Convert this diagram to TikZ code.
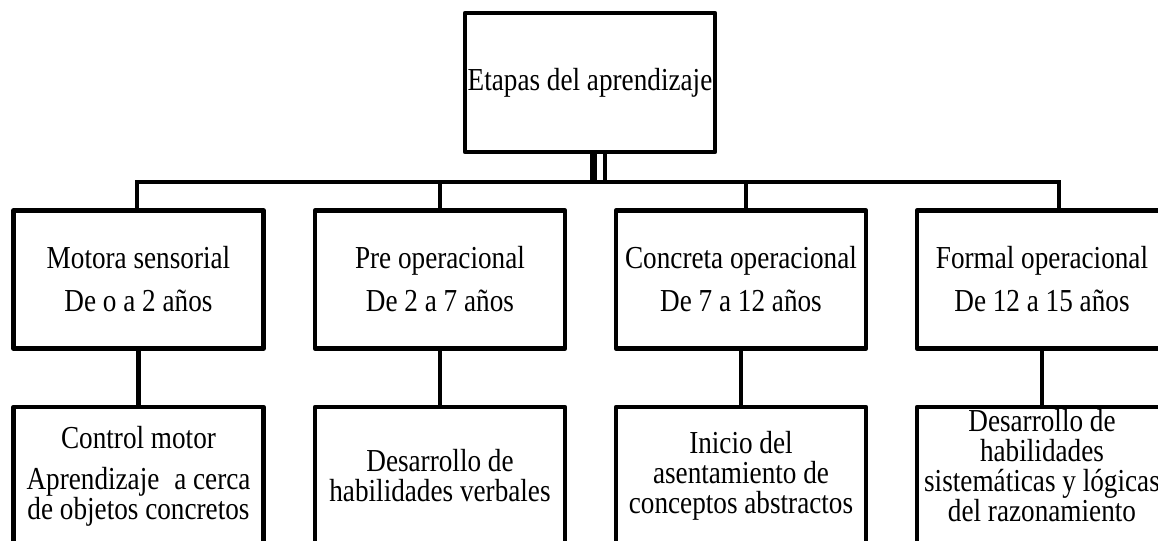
\documentclass[tikz,border=0pt]{standalone}
\usepackage{fontspec}
\setmainfont[FakeStretch=0.85]{Liberation Serif}
\usetikzlibrary{calc}
\begin{document}
\begin{tikzpicture}[x=0.75pt,y=-0.75pt,
  box/.style={draw=black, line width=3.4pt, line join=round, fill=white,
    minimum width=187.5pt, minimum height=103.5pt, inner sep=0pt, align=center,
    font=\fontsize{24}{32.25}\selectfont},
  lowbox/.style={box, font=\fontsize{24}{22.5}\selectfont},
  conn/.style={draw=black, line width=3.3pt},
  thickconn/.style={draw=black, line width=5.2pt},
  thinconn/.style={draw=black, line width=2.6pt}]
\useasboundingbox (0,0) rectangle (1158,540);
\clip (0,0) rectangle (1158,540);
% top
\node[box, minimum height=104.25pt] (top) at (590,82.5) {Etapas del aprendizaje};
% row 1
\node[box] (a1) at (138.5,279.5) {Motora sensorial\\De o a 2 años};
\node[box] (a2) at (440,279.5) {Pre operacional\\De 2 a 7 años};
\node[box] (a3) at (741,279.5) {Concreta operacional\\De 7 a 12 años};
\node[box] (a4) at (1042,279.5) {Formal operacional\\De 12 a 15 años};
% row 2
\node[lowbox] (b1) at (138.5,476) {Control motor\\[8pt]Aprendizaje\hspace{0.25em} a cerca\\de objetos concretos};
\node[lowbox] (b2) at (440,476) {Desarrollo de\\habilidades verbales};
\node[lowbox] (b3) at (741,476) {Inicio del\\asentamiento de\\conceptos abstractos};
\node[lowbox] (b4) at (1042,476) {Desarrollo de\\habilidades\\sistemáticas y lógicas\\del razonamiento\\[-6pt]\mbox{}};
% hub
\coordinate (hub) at (590,182);
\coordinate (a1t) at ($(a1.north)+(-1.5,0)$);
\coordinate (a3t) at ($(a3.north)+(5,0)$);
\coordinate (a4t) at ($(a4.north)+(17,0)$);
\draw[conn] (a1t) |- (hub) -| (a4t);
\draw[conn] (a2.north) -- (a2.north |- hub);
\draw[conn] (a3t) -- (a3t |- hub);
\draw[thickconn] ($(top.south)+(3.5,0)$) -- ($(top.south |- hub)+(3.5,0)$);
\draw[thinconn] ($(top.south)+(15,0)$) -- ($(top.south |- hub)+(15,0)$);
% lower connectors
\draw[conn] (a1.south) -- (b1.north);
\draw[conn] (a2.south) -- (b2.north);
\draw[conn] (a3.south) -- (b3.north);
\draw[conn] (a4.south) -- (b4.north);
\end{tikzpicture}
\end{document}
